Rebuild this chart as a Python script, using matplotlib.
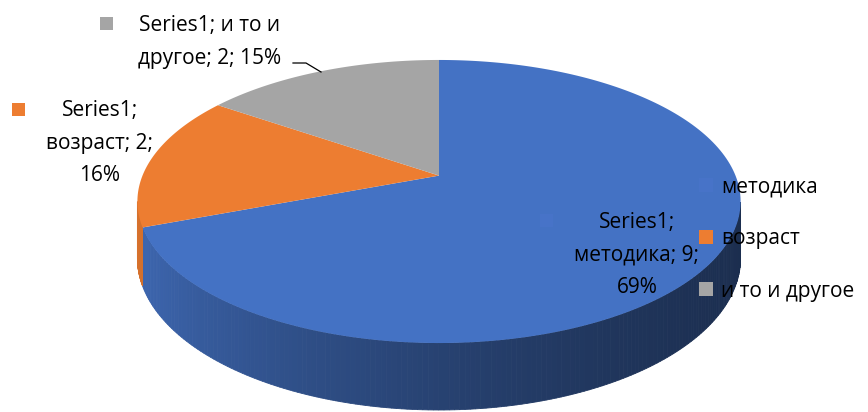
import numpy as np
import matplotlib.pyplot as plt
from matplotlib.patches import Polygon, Rectangle

categories = ["методика", "возраст", "и то и другое"]
values = [9, 2, 2]
percents = ["69%", "16%", "15%"]
series_name = "Series1"
colors = ["#4472C4", "#ED7D31", "#A5A5A5"]

plt.rcParams['font.family'] = ['Open Sans', 'DejaVu Sans']
FS = 15

fig = plt.figure(figsize=(8.68, 4.12), dpi=100)
ax = fig.add_axes([0, 0, 1, 1])
ax.set_xlim(0, 868)
ax.set_ylim(412, 0)
ax.axis('off')

# pseudo 3d pie with a bit of perspective (pixel units)
cx, cy, rx, ry, depth, e = 439, 175.6, 296.5, 136.8, 54.7, 0.183


def pt(t):
    p = 1 / (1 + e * np.sin(t))
    return cx + rx * np.cos(t) * p, cy - ry * np.sin(t) * p


def shade(c, f):
    r, g, b = [int(c[i:i + 2], 16) / 255 for i in (1, 3, 5)]
    return (r * f, g * f, b * f)


total = sum(values)
a = 90.0
ranges = []
for v in values:
    sweep = v / total * 360
    ranges.append((a - sweep, a))
    a -= sweep

# side walls (front part only), lighter on the left, dark on the right
for (a0, a1), col in zip(ranges, colors):
    ts = np.radians(np.linspace(a0, a1, 300))
    for t0, t1 in zip(ts[:-1], ts[1:]):
        tm = (t0 + t1) / 2
        if np.sin(tm) >= -e:
            continue
        u = np.cos(tm)
        f = 0.58 - 0.26 * u + 0.08 * u * u
        x0, y0 = pt(t0)
        x1, y1 = pt(t1)
        d0 = depth / (1 + e * np.sin(t0))
        d1 = depth / (1 + e * np.sin(t1))
        c = shade(col, f)
        ax.add_patch(Polygon([(x0, y0), (x1, y1), (x1, y1 + d1), (x0, y0 + d0)],
                             closed=True, facecolor=c, edgecolor=c, lw=0.6))

# top faces
for (a0, a1), col in zip(ranges, colors):
    ts = np.radians(np.linspace(a0, a1, 200))
    xs, ys = pt(ts)
    verts = [(cx, cy)] + list(zip(xs, ys))
    ax.add_patch(Polygon(verts, closed=True, facecolor=col, edgecolor='none'))

# data labels
lab_pos = [(637, 255), (100, 143), (210, 42)]
lab_text = [
    f"{series_name};\n{categories[0]}; {values[0]};\n{percents[0]}",
    f"{series_name};\n{categories[1]}; {values[1]};\n{percents[1]}",
    f"{series_name}; и то и\nдругое; {values[2]}; {percents[2]}",
]
key_pos = [(546, 220), (18, 109), (106, 23)]
key_cols = ["#4773c8", colors[1], colors[2]]
for (x, y), s, (kx, ky), kc in zip(lab_pos, lab_text, key_pos, key_cols):
    ax.text(x, y, s, ha='center', va='center', fontsize=FS, color='black',
            linespacing=1.7)
    ax.add_patch(Rectangle((kx - 6.5, ky - 6.5), 13, 13, facecolor=kc, edgecolor='none'))

# leader line for the grey label
ax.plot([293, 306, 321], [63, 63, 72], color='black', lw=0.9)

handles = [Rectangle((0, 0), 1, 1, facecolor=c, edgecolor='none') for c in ["#4773c8"] + colors[1:]]
ax.legend(handles, categories, loc='center left', bbox_to_anchor=(689 / 868, 1 - 239 / 412),
          frameon=False, fontsize=FS, handlelength=0.65, handleheight=0.65,
          handletextpad=0.4, labelspacing=1.5, borderpad=0)

fig.savefig("out.png", dpi=100)
